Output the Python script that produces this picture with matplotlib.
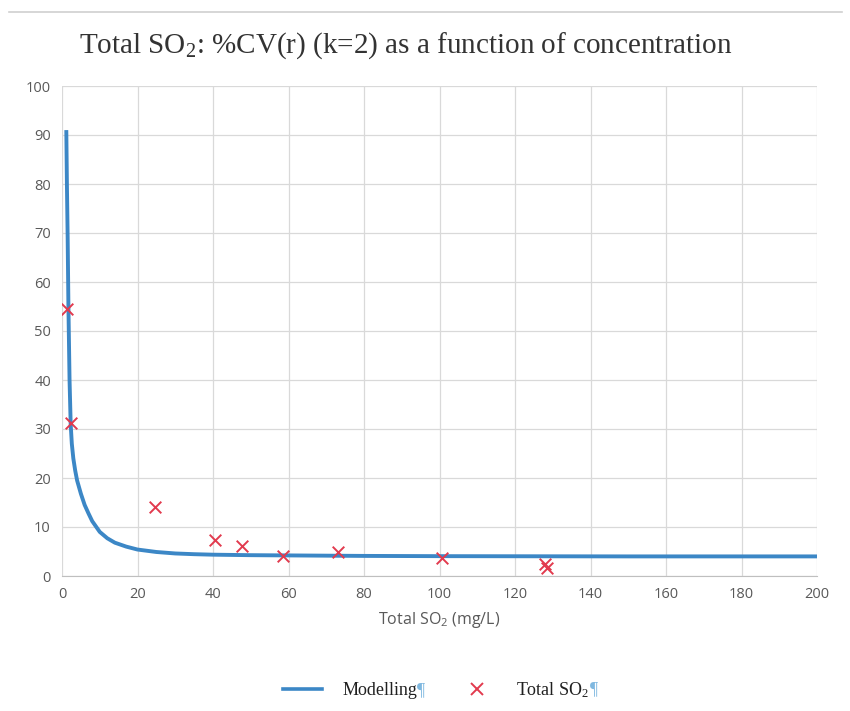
import matplotlib
matplotlib.use("Agg")
import matplotlib.pyplot as plt
from matplotlib.lines import Line2D

# Model curve
model_x = [1.14, 1.3, 1.5, 1.7, 2.0, 2.3, 2.6, 3.0, 3.5, 4, 5, 6, 7, 8, 10, 12, 14, 17, 20, 25, 30, 35, 40, 50, 60, 80, 100, 150, 200]
model_y = [91, 80, 69, 55, 40, 31, 27, 24, 21.5, 19.5, 16.8, 14.5, 12.8, 11.2, 9.0, 7.7, 6.8, 6.0, 5.4, 4.9, 4.6, 4.45, 4.35, 4.25, 4.2, 4.1, 4.05, 4.0, 4.0]

# Measured points
meas_x = [1.4, 2.3, 24.6, 40.5, 47.7, 58.5, 73.1, 100.7, 127.9, 128.5]
meas_y = [54.5, 31.2, 14.1, 7.3, 6.1, 4.1, 4.9, 3.7, 2.4, 1.7]

title = r"Total SO$\mathregular{_2}$: %CV(r) (k=2) as a function of concentration"
xlabel = r"Total SO$\mathregular{_2}$ (mg/L)"
legend_labels = ["Modelling", r"Total SO$\mathregular{_2}$"]
xticks = list(range(0, 201, 20))
yticks = list(range(0, 101, 10))

line_col = "#3C87C6"
mark_col = "#E23A4E"
tick_col = "#595959"

fig = plt.figure(figsize=(8.5, 7.11), dpi=100)
ax = fig.add_axes([62/850, 1-576/711, (817-62)/850, (576-86)/711])

ax.plot(model_x, model_y, color=line_col, lw=2.8, zorder=3, solid_capstyle="butt")
ax.scatter(meas_x, meas_y, marker="x", color=mark_col, s=70, linewidths=1.4, zorder=4)

ax.set_xlim(0, 200)
ax.set_ylim(0, 100)
ax.set_xticks(xticks)
ax.set_yticks(yticks)
ax.grid(True, color="#D9D9D9", lw=0.9)
ax.set_axisbelow(True)
for s in ["top", "right", "left"]:
    ax.spines[s].set_visible(False)
ax.spines["bottom"].set_color("#BFBFBF")
ax.tick_params(length=0, labelsize=10.5, colors=tick_col, pad=8)
for lab in ax.get_xticklabels() + ax.get_yticklabels():
    lab.set_fontfamily("Open Sans")
ax.set_xlabel(xlabel, fontsize=11.5, color=tick_col, family="Open Sans", labelpad=6)

fig.text(0.477, 1-46/711, title, ha="center", va="center", fontsize=21,
         family="Liberation Serif", color="#333333")

# top rule
fig.add_artist(Line2D([0.01, 0.99], [1-12/711, 1-12/711], color="#D0D0D0", lw=1.2))

# legend
handles = [Line2D([], [], color=line_col, lw=2.6),
           Line2D([], [], color=mark_col, marker="x", ls="none", markersize=8, markeredgewidth=1.4)]
leg = fig.legend(handles, legend_labels, loc="center", bbox_to_anchor=(0.513, 1-690/711),
                 ncol=2, frameon=False, prop={"family": "Liberation Serif", "size": 13},
                 handlelength=2.2, columnspacing=2.2, handletextpad=1.1)
for t in leg.get_texts():
    t.set_color("#202020")
fig.canvas.draw()
r = fig.canvas.get_renderer()
for t in leg.get_texts():
    bb = t.get_window_extent(r)
    x0 = bb.x1 / fig.bbox.width
    y0 = (bb.y0 + bb.y1) / 2 / fig.bbox.height
    fig.text(x0, y0, "\u00b6", ha="left", va="center", fontsize=13,
             family="Liberation Serif", color="#7FB8E0")

fig.savefig("out.png", dpi=100)
